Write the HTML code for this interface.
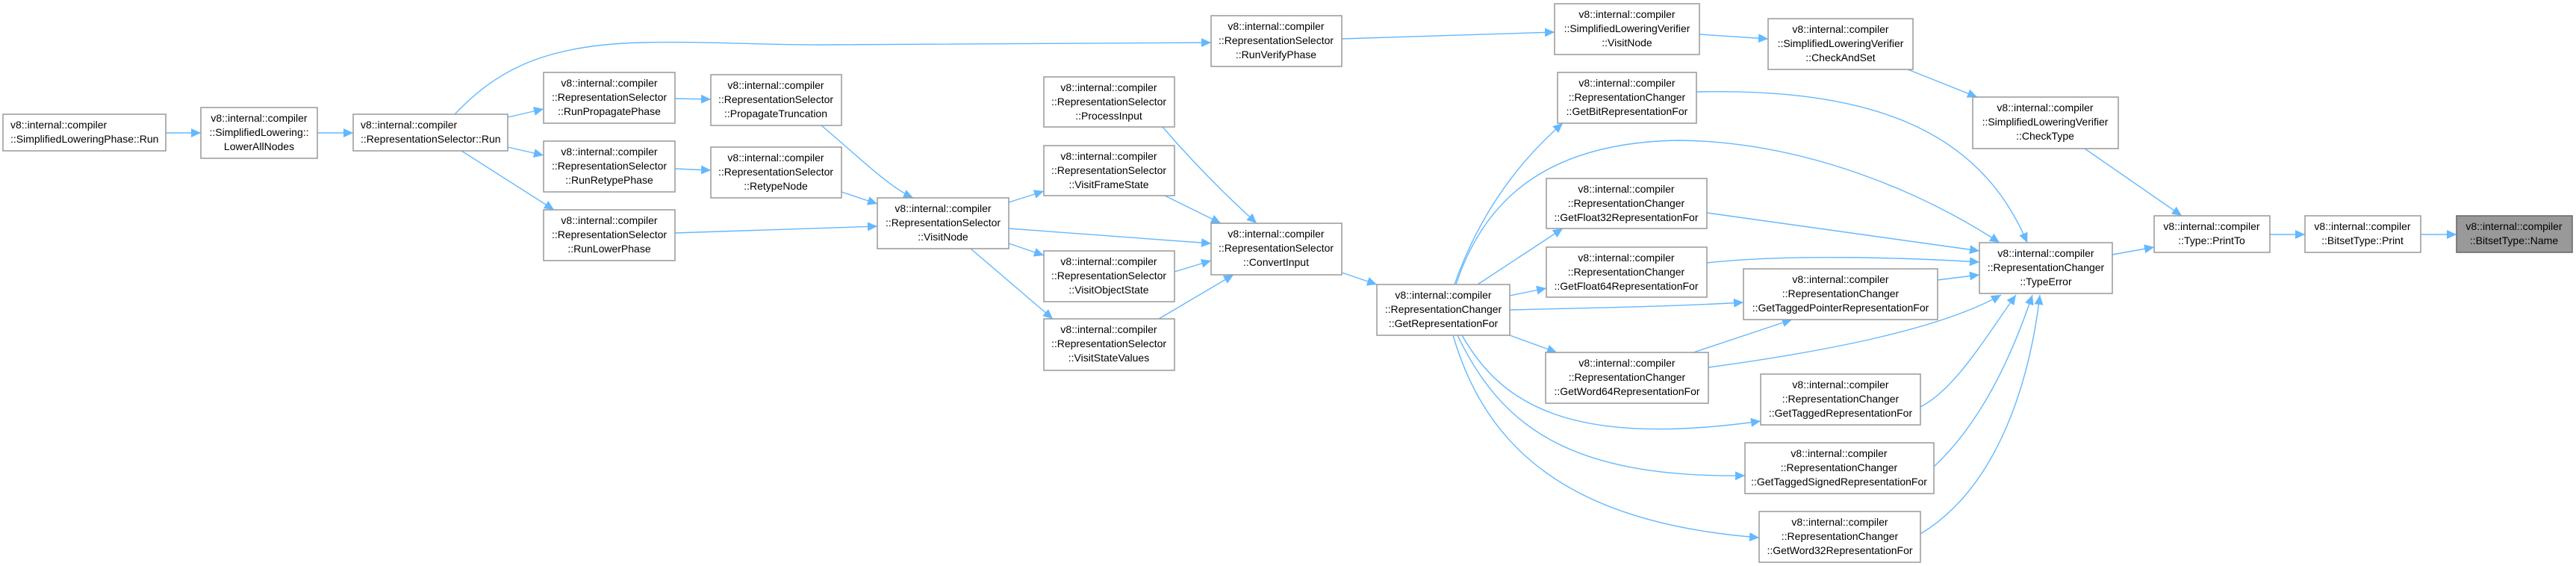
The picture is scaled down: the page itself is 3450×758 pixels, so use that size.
<!DOCTYPE html>
<html><head><meta charset="utf-8"><style>
html,body{margin:0;padding:0;background:#fff;}
svg{display:block;}
text{font-family:"Liberation Sans",sans-serif;font-size:14px;fill:#000;}
.n{fill:#fff;stroke:#999;stroke-width:1.5;}
.e{fill:none;stroke:#63b8ff;stroke-width:1.4;}
</style></head><body>
<svg width="3450" height="758" viewBox="0 0 3450 758" xmlns="http://www.w3.org/2000/svg">
<defs>
<marker id="a" markerUnits="userSpaceOnUse" markerWidth="14" markerHeight="12" refX="13" refY="6" orient="auto">
<polygon points="0,0 13,6 0,12" fill="#63b8ff"/>
</marker>
</defs>
<g marker-end="url(#a)">
<path class="e" d="M222,178 L269,178"/>
<path class="e" d="M425,178 L473,178"/>
<path class="e" d="M680,157 L728,146"/>
<path class="e" d="M680,197 L728,208"/>
<path class="e" d="M618,202 L742,281"/>
<path class="e" d="M609,153 C660,100 720,60 860,57 C950,55 1000,60 1100,60 L1622,57"/>
<path class="e" d="M904,132 L952,133"/>
<path class="e" d="M904,226 L952,228"/>
<path class="e" d="M904,312 L1175,303"/>
<path class="e" d="M1100,168 C1150,210 1190,250 1223,265"/>
<path class="e" d="M1127,257 L1175,273"/>
<path class="e" d="M1351,271 L1398,256"/>
<path class="e" d="M1351,306 L1622,326"/>
<path class="e" d="M1351,326 L1398,342"/>
<path class="e" d="M1300,333 L1410,427"/>
<path class="e" d="M1557,170 C1600,220 1640,260 1683,299"/>
<path class="e" d="M1560,262 L1635,299"/>
<path class="e" d="M1573,364 L1622,349"/>
<path class="e" d="M1552,427 L1652,368"/>
<path class="e" d="M1797,52 L2082,43"/>
<path class="e" d="M2276,46 L2368,52"/>
<path class="e" d="M2555,93 L2648,130"/>
<path class="e" d="M2792,199 L2922,289"/>
<path class="e" d="M1797,365 L1844,381"/>
<path class="e" d="M1948,381 C1980,290 2030,220 2093,165"/>
<path class="e" d="M1950,381 C1990,260 2080,190 2250,188 C2420,190 2580,260 2678,325"/>
<path class="e" d="M1979,381 L2093,306"/>
<path class="e" d="M2022,396 L2071,386"/>
<path class="e" d="M2022,415 C2150,412 2250,410 2335,405"/>
<path class="e" d="M2022,449 L2085,472"/>
<path class="e" d="M1958,449 C2010,540 2100,600 2358,564"/>
<path class="e" d="M1952,449 C2010,570 2100,640 2337,637"/>
<path class="e" d="M1946,449 C1990,600 2100,700 2356,720"/>
<path class="e" d="M2272,123 C2500,118 2650,170 2715,325"/>
<path class="e" d="M2286,285 L2651,336"/>
<path class="e" d="M2286,352 C2400,340 2550,345 2651,351"/>
<path class="e" d="M2595,375 L2651,368"/>
<path class="e" d="M2288,492 C2450,470 2600,440 2680,395"/>
<path class="e" d="M2572,545 C2620,520 2660,450 2700,395"/>
<path class="e" d="M2590,625 C2660,560 2700,460 2722,395"/>
<path class="e" d="M2572,715 C2680,650 2720,500 2732,395"/>
<path class="e" d="M2268,472 L2400,428"/>
<path class="e" d="M2829,341 L2885,331"/>
<path class="e" d="M3040,314 L3087,314"/>
<path class="e" d="M3242,314 L3290,314"/>
</g>

<!-- nodes -->
<rect class="n" x="4" y="153" width="218" height="49"/>
<text x="14" y="172">v8::internal::compiler</text><text x="14" y="191">::SimplifiedLoweringPhase::Run</text>

<rect class="n" x="269" y="144" width="156" height="68"/>
<g text-anchor="middle"><text x="347" y="163">v8::internal::compiler</text><text x="347" y="182">::SimplifiedLowering::</text><text x="347" y="201">LowerAllNodes</text></g>

<rect class="n" x="473" y="153" width="207" height="49"/>
<text x="483" y="172">v8::internal::compiler</text><text x="483" y="191">::RepresentationSelector::Run</text>

<g text-anchor="middle">
<rect class="n" x="728" y="97" width="176" height="68"/>
<text x="816" y="116">v8::internal::compiler</text><text x="816" y="135">::RepresentationSelector</text><text x="816" y="154">::RunPropagatePhase</text>

<rect class="n" x="728" y="189" width="176" height="68"/>
<text x="816" y="208">v8::internal::compiler</text><text x="816" y="227">::RepresentationSelector</text><text x="816" y="246">::RunRetypePhase</text>

<rect class="n" x="728" y="281" width="176" height="68"/>
<text x="816" y="300">v8::internal::compiler</text><text x="816" y="319">::RepresentationSelector</text><text x="816" y="338">::RunLowerPhase</text>

<rect class="n" x="952" y="100" width="175" height="68"/>
<text x="1039" y="119">v8::internal::compiler</text><text x="1039" y="138">::RepresentationSelector</text><text x="1039" y="157">::PropagateTruncation</text>

<rect class="n" x="952" y="197" width="175" height="68"/>
<text x="1039" y="216">v8::internal::compiler</text><text x="1039" y="235">::RepresentationSelector</text><text x="1039" y="254">::RetypeNode</text>

<rect class="n" x="1175" y="265" width="176" height="68"/>
<text x="1263" y="284">v8::internal::compiler</text><text x="1263" y="303">::RepresentationSelector</text><text x="1263" y="322">::VisitNode</text>

<rect class="n" x="1398" y="103" width="175" height="67"/>
<text x="1485" y="122">v8::internal::compiler</text><text x="1485" y="141">::RepresentationSelector</text><text x="1485" y="160">::ProcessInput</text>

<rect class="n" x="1398" y="195" width="175" height="67"/>
<text x="1485" y="214">v8::internal::compiler</text><text x="1485" y="233">::RepresentationSelector</text><text x="1485" y="252">::VisitFrameState</text>

<rect class="n" x="1398" y="336" width="175" height="68"/>
<text x="1485" y="355">v8::internal::compiler</text><text x="1485" y="374">::RepresentationSelector</text><text x="1485" y="393">::VisitObjectState</text>

<rect class="n" x="1398" y="427" width="175" height="69"/>
<text x="1485" y="446">v8::internal::compiler</text><text x="1485" y="465">::RepresentationSelector</text><text x="1485" y="484">::VisitStateValues</text>

<rect class="n" x="1622" y="21" width="175" height="68"/>
<text x="1709" y="40">v8::internal::compiler</text><text x="1709" y="59">::RepresentationSelector</text><text x="1709" y="78">::RunVerifyPhase</text>

<rect class="n" x="1622" y="299" width="175" height="69"/>
<text x="1709" y="318">v8::internal::compiler</text><text x="1709" y="337">::RepresentationSelector</text><text x="1709" y="356">::ConvertInput</text>

<rect class="n" x="1844" y="381" width="178" height="68"/>
<text x="1933" y="400">v8::internal::compiler</text><text x="1933" y="419">::RepresentationChanger</text><text x="1933" y="438">::GetRepresentationFor</text>

<rect class="n" x="2082" y="5" width="194" height="68"/>
<text x="2179" y="24">v8::internal::compiler</text><text x="2179" y="43">::SimplifiedLoweringVerifier</text><text x="2179" y="62">::VisitNode</text>

<rect class="n" x="2086" y="97" width="186" height="68"/>
<text x="2179" y="116">v8::internal::compiler</text><text x="2179" y="135">::RepresentationChanger</text><text x="2179" y="154">::GetBitRepresentationFor</text>

<rect class="n" x="2071" y="239" width="215" height="67"/>
<text x="2178" y="258">v8::internal::compiler</text><text x="2178" y="277">::RepresentationChanger</text><text x="2178" y="296">::GetFloat32RepresentationFor</text>

<rect class="n" x="2071" y="331" width="215" height="67"/>
<text x="2178" y="350">v8::internal::compiler</text><text x="2178" y="369">::RepresentationChanger</text><text x="2178" y="388">::GetFloat64RepresentationFor</text>

<rect class="n" x="2070" y="472" width="218" height="68"/>
<text x="2179" y="491">v8::internal::compiler</text><text x="2179" y="510">::RepresentationChanger</text><text x="2179" y="529">::GetWord64RepresentationFor</text>

<rect class="n" x="2368" y="25" width="194" height="68"/>
<text x="2465" y="44">v8::internal::compiler</text><text x="2465" y="63">::SimplifiedLoweringVerifier</text><text x="2465" y="82">::CheckAndSet</text>

<rect class="n" x="2335" y="360" width="260" height="68"/>
<text x="2465" y="379">v8::internal::compiler</text><text x="2465" y="398">::RepresentationChanger</text><text x="2465" y="417">::GetTaggedPointerRepresentationFor</text>

<rect class="n" x="2358" y="501" width="214" height="68"/>
<text x="2465" y="520">v8::internal::compiler</text><text x="2465" y="539">::RepresentationChanger</text><text x="2465" y="558">::GetTaggedRepresentationFor</text>

<rect class="n" x="2337" y="593" width="253" height="68"/>
<text x="2463" y="612">v8::internal::compiler</text><text x="2463" y="631">::RepresentationChanger</text><text x="2463" y="650">::GetTaggedSignedRepresentationFor</text>

<rect class="n" x="2356" y="685" width="216" height="68"/>
<text x="2464" y="704">v8::internal::compiler</text><text x="2464" y="723">::RepresentationChanger</text><text x="2464" y="742">::GetWord32RepresentationFor</text>

<rect class="n" x="2642" y="130" width="195" height="69"/>
<text x="2739" y="149">v8::internal::compiler</text><text x="2739" y="168">::SimplifiedLoweringVerifier</text><text x="2739" y="187">::CheckType</text>

<rect class="n" x="2651" y="325" width="178" height="68"/>
<text x="2740" y="344">v8::internal::compiler</text><text x="2740" y="363">::RepresentationChanger</text><text x="2740" y="382">::TypeError</text>

<rect class="n" x="2885" y="289" width="155" height="49"/>
<text x="2962" y="308">v8::internal::compiler</text><text x="2962" y="327">::Type::PrintTo</text>

<rect class="n" x="3087" y="289" width="155" height="49"/>
<text x="3164" y="308">v8::internal::compiler</text><text x="3164" y="327">::BitsetType::Print</text>

<rect x="3290" y="289" width="155" height="49" fill="#999" stroke="#666" stroke-width="1.5"/>
<text x="3367" y="308">v8::internal::compiler</text><text x="3367" y="327">::BitsetType::Name</text>
</g>
</svg>
</body></html>
